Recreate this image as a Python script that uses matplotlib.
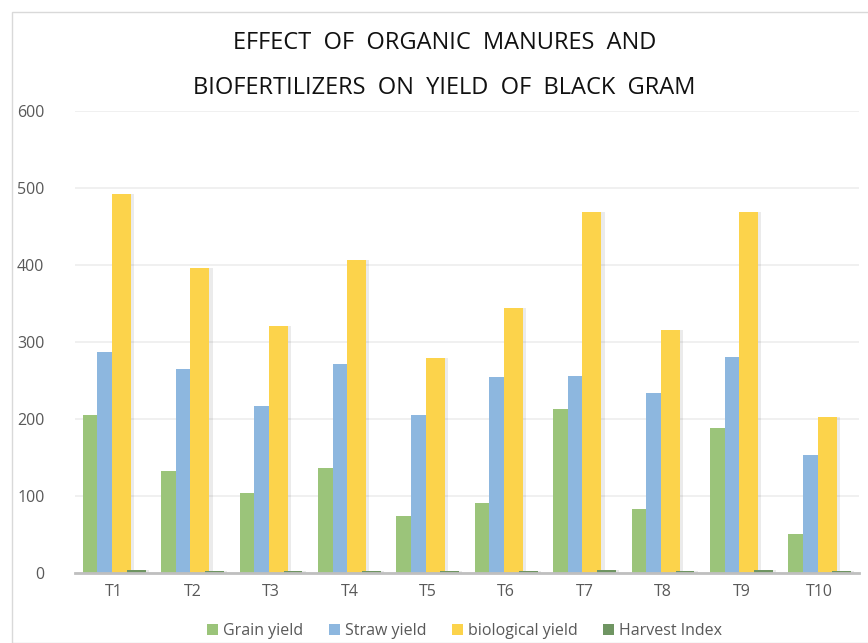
import numpy as np
import matplotlib.pyplot as plt
from matplotlib.patches import Rectangle

treatments = ["T1", "T2", "T3", "T4", "T5", "T6", "T7", "T8", "T9", "T10"]
grain_yield = [205, 132, 104, 136, 74, 91, 213, 83, 188, 51]
straw_yield = [287, 265, 217, 271, 205, 255, 256, 234, 281, 153]
biological_yield = [492, 396, 321, 406, 279, 344, 469, 316, 469, 203]
harvest_index = [3.8, 2.5, 2.6, 2.5, 2.2, 2.3, 4.0, 2.4, 3.6, 2.2]

series = [
    ("Grain yield", grain_yield, "#9BC47A"),
    ("Straw yield", straw_yield, "#8DB7DF"),
    ("biological yield", biological_yield, "#FCD34B"),
    ("Harvest Index", harvest_index, "#6F9562"),
]

plt.rcParams["font.family"] = ["Liberation Sans Narrow", "Open Sans", "DejaVu Sans"]

fig = plt.figure(figsize=(8.68, 6.43), dpi=100)
ax = fig.add_axes([75 / 868, 1 - 573 / 643, 784 / 868, 462 / 643])

x = np.arange(len(treatments))
width = 0.242
step = 0.187
for i, (name, vals, color) in enumerate(series):
    pos = x + (i - 1.5) * step
    # slight shadow on the right side, like the original
    ax.bar(pos + 0.04, vals, width, color="#000000", alpha=0.08, zorder=2 + i * 2)
    ax.bar(pos, vals, width, color=color, label=name, zorder=3 + i * 2)

ax.set_xlim(-0.5, len(treatments) - 0.5)
ax.set_ylim(0, 600)
ax.set_yticks(range(0, 601, 100))
ax.set_xticks(x)
ax.set_xticklabels(treatments)
ax.tick_params(axis="x", length=0, labelsize=11.5, colors="#595959", pad=8)
ax.tick_params(axis="y", length=0, labelsize=11.5, colors="#595959", pad=22)
ax.yaxis.grid(True, color="#EDEDED", linewidth=1.2, zorder=0)
ax.set_axisbelow(True)
for s in ["top", "right", "left"]:
    ax.spines[s].set_visible(False)
ax.spines["bottom"].set_color("#BFBFBF")
ax.spines["bottom"].set_linewidth(2)
ax.spines["bottom"].set_zorder(20)

fig.text(0.512, 1 - 43 / 643, "EFFECT  OF  ORGANIC  MANURES  AND",
         ha="center", va="center", fontsize=17, color="#111111")
fig.text(0.512, 1 - 88 / 643, "BIOFERTILIZERS  ON  YIELD  OF  BLACK  GRAM",
         ha="center", va="center", fontsize=17, color="#111111")

fig.legend(loc="center", bbox_to_anchor=(0.535, 1 - 631 / 643), ncol=4,
           frameon=False, fontsize=11.5, handlelength=0.7, handleheight=0.7,
           handletextpad=0.3, columnspacing=1.6, labelcolor="#595959")

# outer chart border
fig.patches.append(Rectangle((12 / 868, 0), 1, 1 - 12 / 643, transform=fig.transFigure,
                             fill=False, edgecolor="#D9D9D9", linewidth=1))

fig.savefig("out.png", dpi=100)
